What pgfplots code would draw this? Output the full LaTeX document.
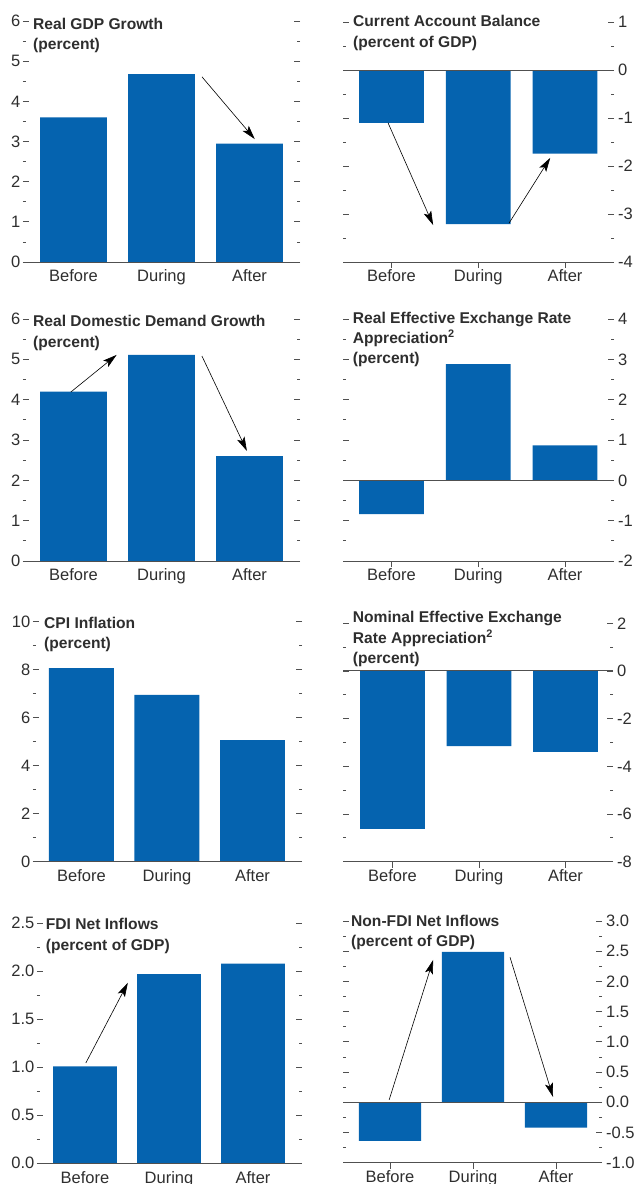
\documentclass[border=0pt]{standalone}
\usepackage{fontspec}
\setmainfont{Liberation Sans}
\usepackage{pgfplots}
\pgfplotsset{compat=1.18}
\usetikzlibrary{arrows.meta}
\definecolor{barblue}{HTML}{0563AF}
\definecolor{txt}{HTML}{2E2E2E}
\definecolor{axc}{HTML}{505050}
\tikzset{
 arr/.style={black, line width=0.6pt, -{Stealth[length=14pt,width=8pt,inset=3pt]}},
 bl/.style={axc, line width=1pt},
 ttl/.style={anchor=base west, inner sep=0pt, text=txt, font=\bfseries\fontsize{15.6}{20}\selectfont},
}
\pgfplotsset{
 base/.style={
  scale only axis, anchor=south west, clip=false,
  axis line style={draw=none},
  xtick={0,1,2}, xticklabels={Before,During,After},
  xtick pos=left,
  major tick length=6pt, minor tick length=3pt,
  tick style={color=axc, line width=0.8pt},
  minor y tick num=1,
  tick label style={font=\fontsize{16.5}{18}\selectfont, text=txt},
  xticklabel style={anchor=base, inner sep=0pt, yshift=-13.8pt},
  yticklabel style={inner sep=0pt},
  /pgf/number format/assume math mode=true,
  ybar,
 },
 lp/.style={base, yticklabel pos=left, ytick pos=both, xtick style={draw=none}, yticklabel style={xshift=-2.5pt}},
 rp/.style={base, yticklabel pos=right, ytick pos=both, yticklabel style={xshift=4pt}},
 bars/.style={fill=barblue, draw=none},
}
\begin{document}
\begin{tikzpicture}
\path[use as bounding box] (0,0) rectangle (636pt,-1184pt);
% Panel 1: Real GDP Growth
\begin{axis}[lp, at={(23pt,-262pt)}, width=277pt, height=241pt,
  xmin=-0.574, xmax=2.574, ymin=0, ymax=6, ytick={0,1,...,6}, bar width=0.761]
\addplot[bars] coordinates {(0,3.6) (1,4.68) (2,2.95)};
\draw[bl] (rel axis cs:0,0) -- (rel axis cs:1,0);
\draw[arr] (axis cs:1.46,4.61) -- (axis cs:2.06,3.06);
\end{axis}
% Panel 2: Current Account Balance
\begin{axis}[rp, at={(343pt,-262pt)}, width=271pt, height=240pt,
  xmin=-0.559, xmax=2.565, ymin=-4, ymax=1, ytick={-4,-3,...,1}, bar width=0.749]
\addplot[bars] coordinates {(0,-1.1) (1,-3.21) (2,-1.74)};
\draw[bl] (rel axis cs:0,0) -- (rel axis cs:1,0);
\draw[bl] (axis cs:-0.559,0) -- (axis cs:2.565,0);
\draw[arr] (axis cs:-0.04,-1.10) -- (axis cs:0.48,-3.23);
\draw[arr] (axis cs:1.355,-3.19) -- (axis cs:1.83,-1.83);
\end{axis}
% Panel 3: Real Domestic Demand Growth
\begin{axis}[lp, at={(23pt,-561pt)}, width=277pt, height=242pt,
  xmin=-0.574, xmax=2.574, ymin=0, ymax=6, ytick={0,1,...,6}, bar width=0.761]
\addplot[bars] coordinates {(0,4.2) (1,5.11) (2,2.6)};
\draw[bl] (rel axis cs:0,0) -- (rel axis cs:1,0);
\draw[arr] (axis cs:-0.03,4.19) -- (axis cs:0.49,5.11);
\draw[arr] (axis cs:1.46,5.08) -- (axis cs:1.97,2.73);
\end{axis}
% Panel 4: Real Effective Exchange Rate Appreciation
\begin{axis}[rp, at={(343pt,-561pt)}, width=271pt, height=242pt,
  xmin=-0.559, xmax=2.565, ymin=-2, ymax=4, ytick={-2,-1,...,4}, bar width=0.749]
\addplot[bars] coordinates {(0,-0.84) (1,2.88) (2,0.87)};
\draw[bl] (rel axis cs:0,0) -- (rel axis cs:1,0);
\draw[bl] (axis cs:-0.559,0) -- (axis cs:2.565,0);
\end{axis}
% Panel 5: CPI Inflation
\begin{axis}[lp, at={(33pt,-861.7pt)}, width=269pt, height=240pt,
  xmin=-0.567, xmax=2.579, ymin=0, ymax=10, ytick={0,2,...,10}, bar width=0.76]
\addplot[bars] coordinates {(0,8.07) (1,6.95) (2,5.07)};
\draw[bl] (rel axis cs:0,0) -- (rel axis cs:1,0);
\end{axis}
% Panel 6: Nominal Effective Exchange Rate Appreciation
\begin{axis}[rp, at={(343pt,-861.7pt)}, width=270pt, height=238.4pt,
  xmin=-0.572, xmax=2.549, ymin=-8, ymax=2, ytick={-8,-6,...,2}, bar width=0.75]
\addplot[bars] coordinates {(0,-6.62) (1,-3.15) (2,-3.39)};
\draw[bl] (rel axis cs:0,0) -- (rel axis cs:1,0);
\draw[bl] (axis cs:-0.572,0) -- (axis cs:2.549,0);
\end{axis}
% Panel 7: FDI Net Inflows
\begin{axis}[lp, at={(37pt,-1163.3pt)}, width=265pt, height=240pt,
  xmin=-0.571, xmax=2.583, ymin=0, ymax=2.5, ytick={0,0.5,...,2.5}, bar width=0.76,
  yticklabel style={/pgf/number format/.cd, fixed, fixed zerofill, precision=1}]
\addplot[bars] coordinates {(0,1.01) (1,1.97) (2,2.08)};
\draw[bl] (rel axis cs:0,0) -- (rel axis cs:1,0);
\draw[arr] (axis cs:0.01,1.045) -- (axis cs:0.51,1.88);
\end{axis}
% Panel 8: Non-FDI Net Inflows
\begin{axis}[rp, at={(343pt,-1162.7pt)}, width=259pt, height=241.7pt,
  xmin=-0.566, xmax=2.554, ymin=-1, ymax=3, ytick={-1,-0.5,...,3}, bar width=0.75,
  yticklabel style={/pgf/number format/.cd, fixed, fixed zerofill, precision=1}]
\addplot[bars] coordinates {(0,-0.64) (1,2.49) (2,-0.42)};
\draw[bl] (rel axis cs:0,0) -- (rel axis cs:1,0);
\draw[bl] (axis cs:-0.566,0) -- (axis cs:2.554,0);
\draw[arr] (axis cs:-0.01,0.04) -- (axis cs:0.52,2.355);
\draw[arr] (axis cs:1.446,2.40) -- (axis cs:1.964,0.088);
\end{axis}
% Titles
\node[ttl] at (33pt,-29.5pt) {Real GDP Growth};
\node[ttl] at (33pt,-49.5pt) {(percent)};
\node[ttl] at (353pt,-26.5pt) {Current Account Balance};
\node[ttl] at (353pt,-47.3pt) {(percent of GDP)};
\node[ttl] at (33pt,-326.5pt) {Real Domestic Demand Growth};
\node[ttl] at (33pt,-347pt) {(percent)};
\node[ttl] at (352.7pt,-323.6pt) {Real Effective Exchange Rate};
\node[ttl] at (352.7pt,-343pt) {Appreciation\textsuperscript{2}};
\node[ttl] at (352.7pt,-363pt) {(percent)};
\node[ttl] at (44pt,-628pt) {CPI Inflation};
\node[ttl] at (44pt,-648.5pt) {(percent)};
\node[ttl] at (352.7pt,-622.3pt) {Nominal Effective Exchange};
\node[ttl] at (352.7pt,-643pt) {Rate Appreciation\textsuperscript{2}};
\node[ttl] at (352.7pt,-663pt) {(percent)};
\node[ttl] at (45.7pt,-929.6pt) {FDI Net Inflows};
\node[ttl] at (45.7pt,-950pt) {(percent of GDP)};
\node[ttl] at (351pt,-926.3pt) {Non-FDI Net Inflows};
\node[ttl] at (351pt,-946.5pt) {(percent of GDP)};
\end{tikzpicture}
\end{document}
